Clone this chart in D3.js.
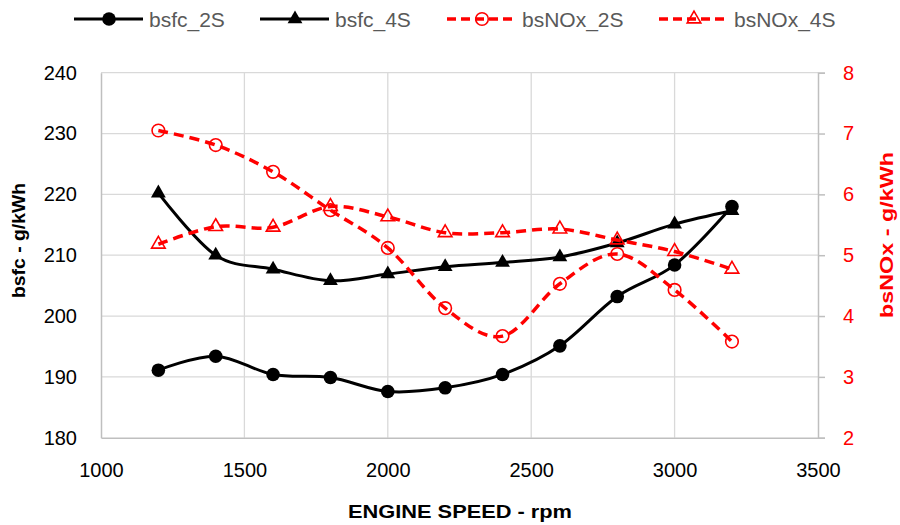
<!DOCTYPE html>
<html><head><meta charset="utf-8">
<script src="https://cdn.jsdelivr.net/npm/d3@7"></script>
<style>body{margin:0;background:#fff}svg{display:block}</style>
</head><body>
<svg id="c" width="900" height="525"></svg>
<script>
const speeds = [1200,1400,1600,1800,2000,2200,2400,2600,2800,3000,3200];
const bsfc2S = [191.1,193.4,190.4,189.9,187.6,188.2,190.4,195.1,203.2,208.4,218.0];
const bsfc4S = [220.2,210.0,207.7,205.8,206.9,208.1,208.8,209.7,212.0,215.1,217.3];
const bsNOx2S = [7.05,6.81,6.37,5.74,5.12,4.13,3.67,4.53,5.02,4.43,3.58];
const bsNOx4S = [5.18,5.47,5.46,5.80,5.63,5.37,5.37,5.43,5.25,5.06,4.77];
const xTicks = [1000,1500,2000,2500,3000,3500];
const yLeftTicks = [180,190,200,210,220,230,240];
const yRightTicks = [2,3,4,5,6,7,8];
const seriesNames = ["bsfc_2S","bsfc_4S","bsNOx_2S","bsNOx_4S"];

const svg = d3.select("#c");
const font = "'Liberation Sans',Arial,sans-serif";
const L=101, R=818, T=72.7, B=437.7;
const x = d3.scaleLinear().domain([1000,3500]).range([L,R]);
const yL = d3.scaleLinear().domain([180,240]).range([B,T]);
const yR = d3.scaleLinear().domain([2,8]).range([B,T]);

// grid
const g = svg.append("g");
g.selectAll(".vg").data(xTicks.slice(1,-1)).enter().append("line")
  .attr("x1",d=>x(d)).attr("x2",d=>x(d)).attr("y1",T).attr("y2",B)
  .attr("stroke","#d9d9d9").attr("stroke-width",1.3);
g.selectAll(".hg").data(yLeftTicks.slice(1)).enter().append("line")
  .attr("x1",L).attr("x2",R).attr("y1",d=>yL(d)).attr("y2",d=>yL(d))
  .attr("stroke","#d9d9d9").attr("stroke-width",1.3);

// axes
const axL = svg.append("g").attr("transform",`translate(${L},0)`)
  .call(d3.axisLeft(yL).tickValues(yLeftTicks).tickSize(0).tickPadding(24));
const axR = svg.append("g").attr("transform",`translate(${R},0)`)
  .call(d3.axisRight(yR).tickValues(yRightTicks).tickSize(7).tickPadding(18).tickFormat(d3.format("d")));
const axB = svg.append("g").attr("transform",`translate(0,${B})`)
  .call(d3.axisBottom(x).tickValues(xTicks).tickSize(0).tickPadding(25).tickFormat(d3.format("d")));
[axL,axR,axB].forEach(a=>{
  a.select(".domain").attr("stroke","#bfbfbf").attr("stroke-width",1.5);
  a.selectAll(".tick line").attr("stroke","#bfbfbf").attr("stroke-width",1.5);
  a.selectAll("text").attr("font-family",font).attr("font-size",20);
});
axL.selectAll("text").attr("fill","#000");
axB.selectAll("text").attr("fill","#000");
axR.selectAll("text").attr("fill","#ff0000");

// titles
svg.append("text").attr("x",460).attr("y",518).attr("text-anchor","middle")
  .attr("font-family",font).attr("font-weight","bold").attr("font-size",18).attr("fill","#000")
  .attr("textLength",224).attr("lengthAdjust","spacingAndGlyphs")
  .text("ENGINE SPEED - rpm");
svg.append("text").attr("transform","translate(25,240.5) rotate(-90)").attr("text-anchor","middle")
  .attr("font-family",font).attr("font-weight","bold").attr("font-size",18).attr("fill","#000")
  .attr("textLength",115).attr("lengthAdjust","spacingAndGlyphs")
  .text("bsfc - g/kWh");
svg.append("text").attr("transform","translate(893,235) rotate(-90)").attr("text-anchor","middle")
  .attr("font-family",font).attr("font-weight","bold").attr("font-size",18).attr("fill","#ff0000")
  .attr("textLength",166).attr("lengthAdjust","spacingAndGlyphs")
  .text("bsNOx - g/kWh");

const curve = d3.curveCardinal.tension(0);
const tri = d3.symbol().type(d3.symbolTriangle);

function drawSeries(vals, yS, opt){
  const line = d3.line().x((d,i)=>x(speeds[i])).y(d=>yS(d)).curve(curve);
  svg.append("path").attr("d",line(vals)).attr("fill","none")
    .attr("stroke",opt.color).attr("stroke-width",opt.width)
    .attr("stroke-dasharray",opt.dash||null).attr("stroke-linejoin","round");
  const m = svg.append("g");
  vals.forEach((v,i)=>drawMarker(m, x(speeds[i]), yS(v), opt));
}
function drawMarker(m, cx, cy, opt){
  if(opt.marker==="circle"){
    m.append("circle").attr("cx",cx).attr("cy",cy).attr("r",opt.filled?6.8:6.3)
      .attr("fill",opt.filled?opt.color:"none").attr("stroke",opt.color).attr("stroke-width",opt.filled?0:1.6);
  } else {
    m.append("path").attr("d",tri.size(opt.filled?95:80)()).attr("transform",`translate(${cx},${cy})`)
      .attr("fill",opt.filled?opt.color:"none").attr("stroke",opt.color).attr("stroke-width",opt.filled?0:1.6);
  }
}
const opts = [
  {color:"#000",width:3,marker:"circle",filled:true},
  {color:"#000",width:3,marker:"triangle",filled:true},
  {color:"#ff0000",width:3.5,marker:"circle",filled:false,dash:"10,6"},
  {color:"#ff0000",width:3.5,marker:"triangle",filled:false,dash:"10,6"}
];
drawSeries(bsfc2S,yL,opts[0]);
drawSeries(bsfc4S,yL,opts[1]);
drawSeries(bsNOx2S,yR,opts[2]);
drawSeries(bsNOx4S,yR,opts[3]);

// legend
const legX = [74,260,447,659];
const leg = svg.append("g");
seriesNames.forEach((n,i)=>{
  const o = opts[i];
  leg.append("line").attr("x1",legX[i]).attr("x2",legX[i]+69).attr("y1",19).attr("y2",19)
    .attr("stroke",o.color).attr("stroke-width",o.width).attr("stroke-dasharray",o.dash?"9,5":null);
  drawMarker(leg, legX[i]+35, 19, o);
  leg.append("text").attr("x",legX[i]+75).attr("y",26.5).attr("font-family",font)
    .attr("font-size",21).attr("fill","#595959").text(n);
});
</script>
</body></html>
